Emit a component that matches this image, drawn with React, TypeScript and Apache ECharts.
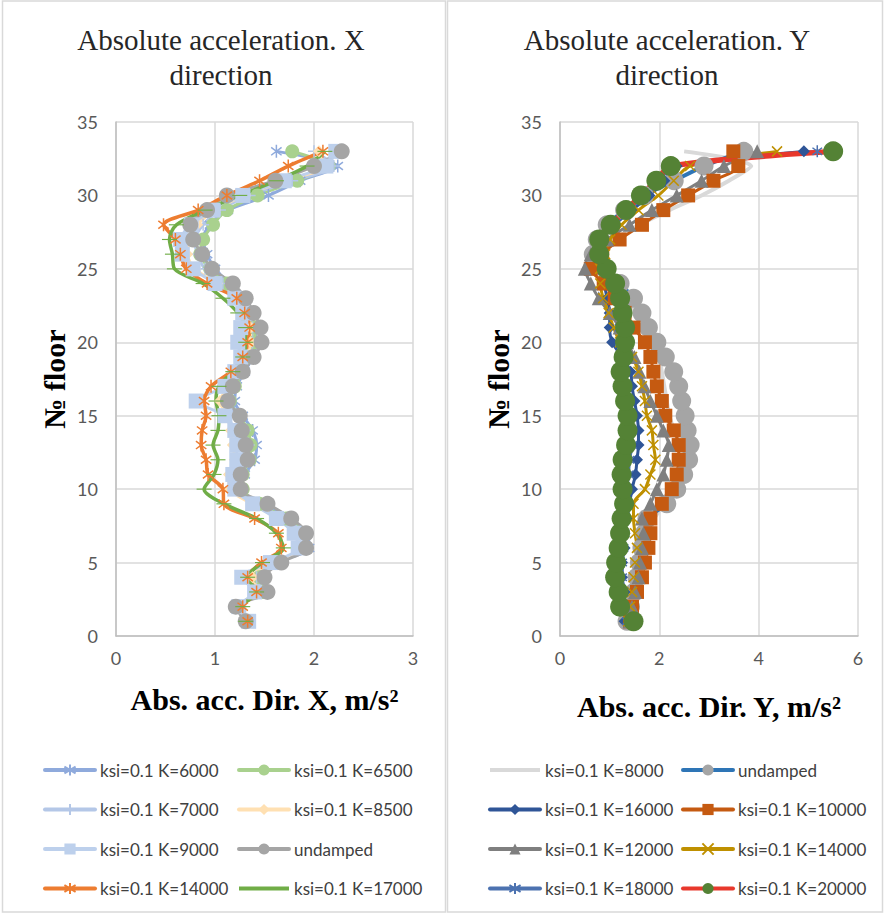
import React, { useEffect, useRef } from 'react';
import * as echarts from 'echarts';

const floors = [1,2,3,4,5,6,7,8,9,10,11,12,13,14,15,16,17,18,19,20,21,22,23,24,25,26,27,28,29,30,31,32,33];

// Left chart: X direction (values index 0 = floor 1)
const xK6000 = [1.33,1.25,1.45,1.45,1.62,1.95,1.93,1.75,1.50,1.25,1.30,1.40,1.42,1.38,1.28,1.20,1.22,1.30,1.38,1.42,1.40,1.35,1.28,1.15,1.00,0.92,0.88,0.95,1.13,1.54,1.86,2.24,1.62];
const xK6500 = [1.33,1.22,1.48,1.45,1.60,1.90,1.90,1.72,1.45,1.28,1.28,1.35,1.36,1.33,1.25,1.15,1.20,1.28,1.36,1.40,1.40,1.35,1.27,1.12,0.95,0.85,0.88,0.98,1.12,1.43,1.83,2.15,1.78];
const xK7000 = [1.32,1.24,1.46,1.42,1.60,1.90,1.88,1.70,1.42,1.24,1.26,1.33,1.34,1.30,1.22,1.12,1.18,1.26,1.34,1.38,1.38,1.33,1.24,1.08,0.90,0.82,0.80,0.88,1.05,1.35,1.78,2.20,2.00];
const xK8500 = [1.32,1.22,1.44,1.38,1.58,1.86,1.84,1.66,1.38,1.15,1.14,1.20,1.18,1.16,1.12,1.05,1.14,1.24,1.32,1.36,1.36,1.30,1.22,1.02,0.80,0.72,0.74,0.82,1.00,1.30,1.70,2.10,2.05];
const xK9000 = [1.34,1.24,1.40,1.27,1.56,1.84,1.80,1.62,1.38,1.20,1.18,1.22,1.22,1.20,1.10,0.81,1.10,1.20,1.26,1.23,1.26,1.28,1.20,1.00,0.78,0.67,0.65,0.76,0.98,1.28,1.70,2.12,2.22];
const xUndamped = [1.31,1.21,1.53,1.50,1.67,1.92,1.92,1.77,1.53,1.26,1.26,1.33,1.31,1.27,1.25,1.13,1.18,1.28,1.39,1.47,1.46,1.39,1.31,1.18,0.97,0.87,0.78,0.75,0.92,1.12,1.61,2.00,2.28];
const xK14000 = [1.33,1.28,1.42,1.33,1.47,1.67,1.64,1.40,1.09,1.08,0.93,0.91,0.86,0.87,0.91,0.89,0.96,1.16,1.28,1.33,1.35,1.30,1.22,0.92,0.71,0.65,0.60,0.48,0.83,1.12,1.45,1.74,2.09];
const xK17000 = [1.31,1.28,1.42,1.33,1.48,1.69,1.62,1.42,1.09,0.89,0.99,1.03,0.98,1.03,1.04,1.01,1.04,1.18,1.28,1.31,1.31,1.23,1.08,0.88,0.59,0.57,0.54,0.61,0.90,1.25,1.62,1.93,2.11];

// Right chart: Y direction
const yK8000 = [1.35,1.45,1.55,1.60,1.70,1.75,1.80,1.90,2.10,2.30,2.40,2.45,2.40,2.30,2.20,2.15,2.10,2.05,2.00,1.90,1.75,1.55,1.30,1.00,0.75,0.80,1.10,1.60,2.20,2.85,3.40,3.85,2.50];
const yUndamped = [1.35,1.42,1.50,1.55,1.60,1.65,1.70,1.75,2.15,2.35,2.49,2.59,2.62,2.56,2.52,2.45,2.39,2.29,2.12,1.95,1.78,1.65,1.48,1.21,0.92,0.67,0.75,0.95,1.30,1.70,2.30,2.90,3.70];
const yK16000 = [1.30,1.30,1.30,1.25,1.25,1.30,1.30,1.35,1.40,1.45,1.52,1.55,1.58,1.58,1.55,1.50,1.45,1.42,1.25,1.05,1.00,1.00,0.95,0.88,0.78,0.75,0.85,1.10,1.45,1.80,2.10,2.35,4.91];
const yK10000 = [1.41,1.45,1.55,1.65,1.71,1.78,1.82,1.82,2.05,2.25,2.35,2.39,2.39,2.29,2.12,2.05,1.95,1.88,1.82,1.71,1.48,1.30,1.10,0.88,0.62,0.85,1.20,1.65,2.08,2.58,3.09,3.59,3.49];
const yK12000 = [1.40,1.45,1.51,1.58,1.61,1.65,1.68,1.65,1.82,1.95,2.08,2.15,2.19,2.08,1.95,1.82,1.70,1.60,1.50,1.35,1.20,1.00,0.78,0.62,0.50,0.62,0.95,1.40,1.85,2.35,2.85,3.30,3.97];
const yK14000 = [1.38,1.41,1.45,1.48,1.51,1.55,1.51,1.48,1.48,1.71,1.82,1.92,1.88,1.85,1.75,1.71,1.65,1.58,1.45,1.21,1.08,0.98,0.87,0.81,0.81,0.91,1.01,1.24,1.58,1.98,2.29,2.62,4.37];
const yK18000 = [1.35,1.30,1.28,1.25,1.25,1.28,1.30,1.30,1.35,1.35,1.38,1.40,1.45,1.45,1.42,1.38,1.32,1.28,1.25,1.22,1.20,1.18,1.12,1.05,0.90,0.80,0.85,1.08,1.40,1.70,2.00,2.30,5.18];
const yK20000 = [1.48,1.21,1.18,1.11,1.13,1.18,1.21,1.24,1.29,1.26,1.24,1.26,1.33,1.36,1.36,1.31,1.26,1.22,1.28,1.31,1.31,1.26,1.21,1.11,0.94,0.79,0.79,1.02,1.33,1.63,1.94,2.23,5.50];

const leftNames = ['ksi=0.1 K=6000','ksi=0.1 K=6500','ksi=0.1 K=7000','ksi=0.1 K=8500','ksi=0.1 K=9000','undamped','ksi=0.1 K=14000','ksi=0.1 K=17000'];
const rightNames = ['ksi=0.1 K=8000','undamped','ksi=0.1 K=16000','ksi=0.1 K=10000','ksi=0.1 K=12000','ksi=0.1 K=14000','ksi=0.1 K=18000','ksi=0.1 K=20000'];

const STAR = 'path://M5,0 L5,10 M1,2 L9,8 M9,2 L1,8';
const PLUS = 'path://M5,0 L5,10 M0,5 L10,5';
const CROSS = 'path://M0,0 L10,10 M10,0 L0,10';
const DASH = 'path://M0,0 L14,0 L14,4 L0,4 Z';
const BAR = 'path://M0,0 L50,0 L50,4 L0,4 Z';

const SANS = 'Lato';
const SERIF = '"Liberation Serif"';

function mk(name: string, vals: number[], axis: number, o: any) {
  return {
    type: 'line',
    name,
    xAxisIndex: axis,
    yAxisIndex: axis,
    data: vals.map((v, i) => [v, floors[i]]),
    smooth: 0.3,
    symbol: o.symbol,
    symbolSize: o.size,
    symbolKeepAspect: true,
    lineStyle: { color: o.line, width: o.width },
    itemStyle: o.stroke
      ? { color: 'rgba(0,0,0,0)', borderColor: o.marker, borderWidth: 1.5 }
      : { color: o.marker, borderWidth: 0 },
    emphasis: { disabled: true },
  };
}

export default function App() {
  const ref = useRef<HTMLDivElement>(null);
  useEffect(() => {
    if (!ref.current) return;
    const chart = echarts.init(ref.current, undefined, { renderer: 'svg' });
    const L = (n: string) => n;
    const R = (n: string) => 'R:' + n;

    const leftStyles = [
      { line: '#8FAADC', marker: '#8FAADC', symbol: STAR, size: 13, width: 3, stroke: true },
      { line: '#A9D18E', marker: '#A9D18E', symbol: 'circle', size: 14, width: 3 },
      { line: '#B4C7E7', marker: '#B4C7E7', symbol: PLUS, size: 12, width: 3, stroke: true },
      { line: '#FFE0B2', marker: '#FFE0B2', symbol: 'diamond', size: 12, width: 3 },
      { line: '#BDD0EC', marker: '#BDD0EC', symbol: 'rect', size: 15, width: 3 },
      { line: '#A5A5A5', marker: '#A5A5A5', symbol: 'circle', size: 16, width: 3 },
      { line: '#ED7D31', marker: '#ED7D31', symbol: STAR, size: 13, width: 3.5, stroke: true },
      { line: '#70AD47', marker: '#70AD47', symbol: DASH, size: [15, 4], width: 3.5 },
    ];
    const leftVals = [xK6000, xK6500, xK7000, xK8500, xK9000, xUndamped, xK14000, xK17000];

    const rightStyles = [
      { line: '#D9D9D9', marker: '#D9D9D9', symbol: 'none', size: 0, width: 4 },
      { line: '#2E75B6', marker: '#A5A5A5', symbol: 'circle', size: 19, width: 4 },
      { line: '#2F5597', marker: '#2F5597', symbol: 'diamond', size: 12, width: 3 },
      { line: '#C55A11', marker: '#C55A11', symbol: 'rect', size: 14, width: 3 },
      { line: '#7F7F7F', marker: '#7F7F7F', symbol: 'triangle', size: 14, width: 3 },
      { line: '#BF9000', marker: '#BF9000', symbol: CROSS, size: 10, width: 3, stroke: true },
      { line: '#4C72B0', marker: '#4C72B0', symbol: STAR, size: 12, width: 3, stroke: true },
      { line: '#E8382C', marker: '#548235', symbol: 'circle', size: 20, width: 5.5 },
    ];
    const rightVals = [yK8000, yUndamped, yK16000, yK10000, yK12000, yK14000, yK18000, yK20000];

    const series: any[] = [];
    leftNames.forEach((n, i) => series.push(mk(L(n), leftVals[i], 0, leftStyles[i])));
    rightNames.forEach((n, i) => series.push(mk(R(n), rightVals[i], 1, rightStyles[i])));

    const axisLabel = { fontFamily: SANS, fontSize: 18, color: '#595959' };
    const axisLine = { show: true, lineStyle: { color: '#BFBFBF', width: 1.5 } };
    const splitLine = { show: true, lineStyle: { color: '#D9D9D9', width: 1.5 } };
    const nameStyle = { fontFamily: SERIF, fontSize: 30, fontWeight: 'bold', color: '#000000' };

    const legendBase = {
      orient: 'vertical',
      itemWidth: 50,
      itemHeight: 14,
      itemGap: 21.5,
      lineStyle: { width: 4, cap: 'round' },
      textStyle: { fontFamily: SANS, fontSize: 17, color: '#404040', lineHeight: 18 },
      selectedMode: false,
    };
    const legendItem = (name: string) =>
      name === 'ksi=0.1 K=17000' || name === 'R:ksi=0.1 K=8000' ? { name, icon: BAR } : { name };

    chart.setOption({
      animation: false,
      grid: [
        { left: 116, top: 122, width: 297, height: 514 },
        { left: 560, top: 122, width: 298, height: 514 },
      ],
      xAxis: [
        { type: 'value', gridIndex: 0, min: 0, max: 3, interval: 1, axisLabel: { ...axisLabel, margin: 13 }, axisLine, axisTick: { show: false }, splitLine,
          name: 'Abs. acc. Dir. X, m/s²', nameLocation: 'middle', nameGap: 48, nameTextStyle: nameStyle },
        { type: 'value', gridIndex: 1, min: 0, max: 6, interval: 2, axisLabel: { ...axisLabel, margin: 13 }, axisLine, axisTick: { show: false }, splitLine,
          name: 'Abs. acc. Dir. Y, m/s²', nameLocation: 'middle', nameGap: 55, nameTextStyle: nameStyle },
      ],
      yAxis: [
        { type: 'value', gridIndex: 0, min: 0, max: 35, interval: 5, axisLabel: { ...axisLabel, margin: 18 }, axisLine, axisTick: { show: false }, splitLine,
          name: '№ floor', nameLocation: 'middle', nameGap: 47, nameRotate: 90, nameTextStyle: nameStyle },
        { type: 'value', gridIndex: 1, min: 0, max: 35, interval: 5, axisLabel: { ...axisLabel, margin: 18 }, axisLine, axisTick: { show: false }, splitLine,
          name: '№ floor', nameLocation: 'middle', nameGap: 47, nameRotate: 90, nameTextStyle: nameStyle },
      ],
      legend: [
        { ...legendBase, left: 38, top: 756, data: [0, 2, 4, 6].map((i) => legendItem(L(leftNames[i]))) },
        { ...legendBase, left: 232, top: 756, data: [1, 3, 5, 7].map((i) => legendItem(L(leftNames[i]))) },
        { ...legendBase, left: 483, top: 756, data: [0, 2, 4, 6].map((i) => legendItem(R(rightNames[i]))), formatter: (n: string) => n.slice(2) },
        { ...legendBase, left: 676, top: 756, data: [1, 3, 5, 7].map((i) => legendItem(R(rightNames[i]))), formatter: (n: string) => n.slice(2) },
      ],
      graphic: [
        { type: 'rect', shape: { x: 2.5, y: 1, width: 443, height: 911 }, style: { fill: 'none', stroke: '#D9D9D9', lineWidth: 1.5 }, silent: true },
        { type: 'rect', shape: { x: 447.5, y: 1, width: 435, height: 911 }, style: { fill: 'none', stroke: '#D9D9D9', lineWidth: 1.5 }, silent: true },
        { type: 'text', x: 221, y: 57, style: { text: 'Absolute acceleration. X\ndirection', align: 'center', verticalAlign: 'middle', font: '29px "Liberation Serif"', fill: '#262626', lineHeight: 35 } },
        { type: 'text', x: 667, y: 57, style: { text: 'Absolute acceleration. Y\ndirection', align: 'center', verticalAlign: 'middle', font: '29px "Liberation Serif"', fill: '#262626', lineHeight: 35 } },
      ],
      series,
    });
    return () => chart.dispose();
  }, []);
  return <div ref={ref} style={{ position: 'absolute', left: 0, top: 0, width: 884, height: 913 }} />;
}
